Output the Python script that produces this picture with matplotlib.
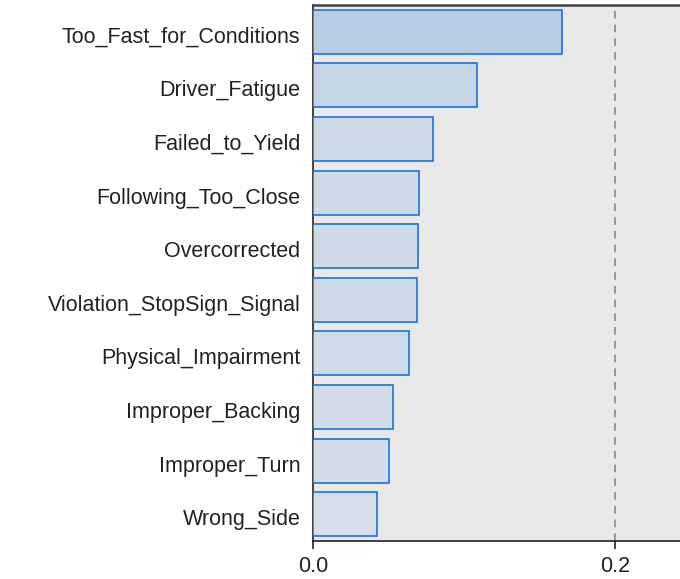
import matplotlib
matplotlib.use("Agg")
import matplotlib.pyplot as plt
import matplotlib.transforms as mtransforms
import numpy as np

categories = ["Too_Fast_for_Conditions", "Driver_Fatigue", "Failed_to_Yield",
              "Following_Too_Close", "Overcorrected", "Violation_StopSign_Signal",
              "Physical_Impairment", "Improper_Backing", "Improper_Turn", "Wrong_Side"]
values = [0.1647, 0.1084, 0.0793, 0.0700, 0.0698, 0.0686, 0.0634, 0.0528, 0.0501, 0.0424]
xticks = [0.0, 0.2]
xtick_labels = ["0.0", "0.2"]

plt.rcParams['font.family'] = ['Liberation Sans', 'DejaVu Sans']

fig = plt.figure(figsize=(6.8, 5.79), dpi=100)
ax = fig.add_axes([313/680, 1-541/579, 1-313/680, (541-5)/579])
ax.set_facecolor('#e9e9e9')

vmax = max(values)
vmin = min(values)
dark = np.array([184, 205, 228]) / 255
light = np.array([212, 222, 233]) / 255
colors = []
for v in values:
    t = (v - vmin) / (vmax - vmin)
    colors.append(tuple(light + (dark - light) * t))

y = np.arange(len(categories))
ax.barh(y, values, height=0.82, color=colors, edgecolor='#1a74d8', linewidth=1.2, zorder=3)
ax.axvline(0.2, color='#808080', linestyle=(0, (5, 4)), linewidth=1.1, zorder=2)

ax.set_ylim(len(categories) - 0.5, -0.5)
ax.set_xlim(0, (680-313)/302*0.2)
ax.set_yticks(y)
ax.set_yticklabels(categories, fontsize=15.5, color='#222222')
ax.set_xticks(xticks)
ax.set_xticklabels(xtick_labels, fontsize=15.5, color='#222222')
ax.tick_params(axis='y', length=0, pad=9)
ax.tick_params(axis='x', length=6, width=1.2, color='#222222', pad=5)

offset = mtransforms.ScaledTranslation(0, -3/100, fig.dpi_scale_trans)
for lbl in ax.get_yticklabels():
    lbl.set_transform(lbl.get_transform() + offset)

ax.spines['right'].set_visible(False)
ax.spines['top'].set_color('#444444')
ax.spines['top'].set_linewidth(1.8)
ax.spines['left'].set_color('#222222')
ax.spines['left'].set_linewidth(1.2)
ax.spines['bottom'].set_color('#222222')
ax.spines['bottom'].set_linewidth(1.2)

fig.savefig("out.png", dpi=100)
